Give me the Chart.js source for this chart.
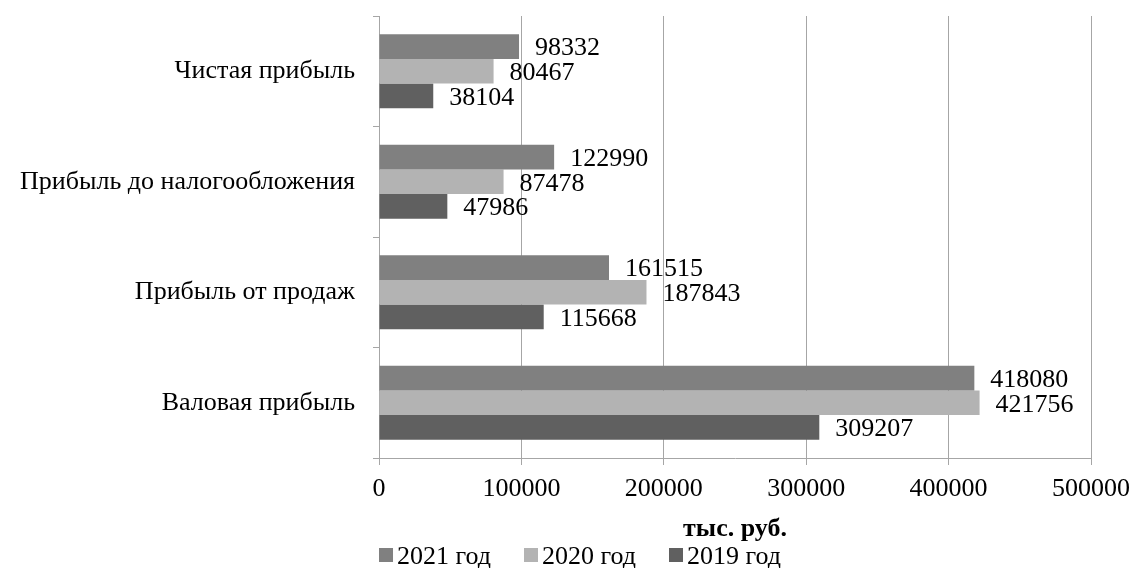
<!DOCTYPE html>
<html>
<head>
<meta charset="utf-8">
<script src="https://cdn.jsdelivr.net/npm/chart.js@4.4.1/dist/chart.umd.min.js"></script>
<style>
  html, body { margin: 0; padding: 0; background: #fff; }
  canvas { display: block; }
</style>
</head>
<body>
<canvas id="myChart" width="1133" height="568"></canvas>
<script>
// данные с диаграммы
const categories = ['Чистая прибыль', 'Прибыль до налогообложения', 'Прибыль от продаж', 'Валовая прибыль'];
const seriesNames = ['2021 год', '2020 год', '2019 год'];
const values2021 = [98332, 122990, 161515, 418080];
const values2020 = [80467, 87478, 187843, 421756];
const values2019 = [38104, 47986, 115668, 309207];
const xMin = 0;
const xMax = 500000;
const xStep = 100000;
const axisTitle = 'тыс. руб.';

const FONT = "'Liberation Serif', 'Times New Roman', serif";
const colors = ['#808080', '#b3b3b3', '#606060'];
const gridColor = '#a6a6a6';

// подписи значений справа от столбцов
const valueLabels = {
  id: 'valueLabels',
  afterDatasetsDraw(chart) {
    const ctx = chart.ctx;
    ctx.save();
    ctx.font = '26px ' + FONT;
    ctx.fillStyle = '#000';
    ctx.textAlign = 'left';
    ctx.textBaseline = 'middle';
    chart.data.datasets.forEach((ds, i) => {
      chart.getDatasetMeta(i).data.forEach((bar, j) => {
        ctx.fillText(String(ds.data[j]), bar.x + 16, bar.y + 2);
      });
    });
    ctx.restore();
  }
};

// легенда снизу: маленький квадрат и подпись вплотную
const bottomLegend = {
  id: 'bottomLegend',
  afterDraw(chart) {
    const ctx = chart.ctx;
    ctx.save();
    ctx.font = '26px ' + FONT;
    ctx.textBaseline = 'middle';
    ctx.textAlign = 'left';
    const box = 14, gapText = 4, gapItem = 33;
    const items = chart.data.datasets.map(ds => ({
      text: ds.label, color: ds.backgroundColor, w: ctx.measureText(ds.label).width
    }));
    let total = items.reduce((s, it) => s + box + gapText + it.w, 0) + gapItem * (items.length - 1);
    let x = 580 - total / 2;
    const y = 555;
    items.forEach(it => {
      ctx.fillStyle = it.color;
      ctx.fillRect(x, y - box / 2, box, box);
      ctx.fillStyle = '#000';
      ctx.fillText(it.text, x + box + gapText, y + 2);
      x += box + gapText + it.w + gapItem;
    });
    ctx.restore();
  }
};

const ctx = document.getElementById('myChart').getContext('2d');
new Chart(ctx, {
  type: 'bar',
  data: {
    labels: categories,
    datasets: [
      { label: seriesNames[0], data: values2021, backgroundColor: colors[0] },
      { label: seriesNames[1], data: values2020, backgroundColor: colors[1] },
      { label: seriesNames[2], data: values2019, backgroundColor: colors[2] }
    ]
  },
  options: {
    indexAxis: 'y',
    responsive: false,
    animation: false,
    layout: { padding: { left: 0, right: 42, top: 16, bottom: 26 } },
    datasets: { bar: { categoryPercentage: 0.67, barPercentage: 1, borderWidth: 0 } },
    scales: {
      x: {
        min: xMin,
        max: xMax,
        ticks: {
          stepSize: xStep,
          color: '#000',
          font: { family: FONT, size: 26, lineHeight: 1 },
          padding: 11,
          maxRotation: 0,
          callback: v => String(v)
        },
        grid: { color: gridColor, tickLength: 7, tickColor: gridColor },
        border: { color: gridColor },
        title: {
          display: true,
          text: axisTitle,
          color: '#000',
          font: { family: FONT, size: 26, weight: 'bold', lineHeight: 1 },
          padding: 0
        },
        afterFit(scale) {
          scale.height = 84;
          scale.paddingLeft = 0;
          scale.paddingRight = 0;
        }
      },
      y: {
        ticks: {
          color: '#000',
          font: { family: FONT, size: 26, lineHeight: 1 },
          padding: 18
        },
        grid: { drawOnChartArea: false, tickLength: 6, color: gridColor, tickColor: gridColor },
        border: { color: gridColor },
        afterFit(scale) {
          scale.width = 379;
          scale.paddingTop = 0;
          scale.paddingBottom = 0;
        }
      }
    },
    plugins: {
      legend: { display: false },
      tooltip: { enabled: false }
    }
  },
  plugins: [valueLabels, bottomLegend]
});
</script>
</body>
</html>
